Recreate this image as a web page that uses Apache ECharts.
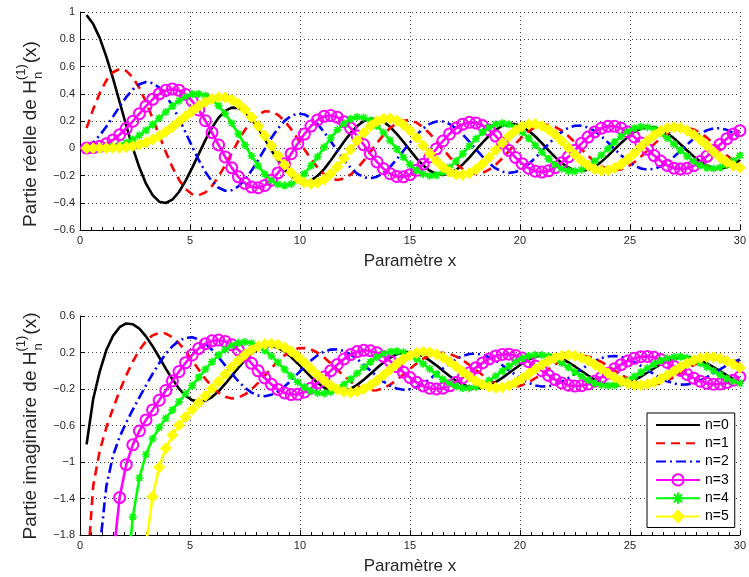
<!DOCTYPE html>
<html>
<head>
<meta charset="utf-8">
<script src="https://cdn.jsdelivr.net/npm/echarts@6/dist/echarts.min.js"></script>
<style>
  html, body { margin: 0; padding: 0; background: #fff; }
  #chart { width: 749px; height: 577px; }
</style>
</head>
<body>
<div id="chart"></div>
<script>
// Sample points along the x axis
const xs = [
  0.3, 0.6, 0.9, 1.2, 1.5, 1.8, 2.1, 2.4, 2.7, 3.0,
  3.3, 3.6, 3.9, 4.2, 4.5, 4.8, 5.1, 5.4, 5.7, 6.0,
  6.3, 6.6, 6.9, 7.2, 7.5, 7.8, 8.1, 8.4, 8.7, 9.0,
  9.3, 9.6, 9.9, 10.2, 10.5, 10.8, 11.1, 11.4, 11.7, 12.0,
  12.3, 12.6, 12.9, 13.2, 13.5, 13.8, 14.1, 14.4, 14.7, 15.0,
  15.3, 15.6, 15.9, 16.2, 16.5, 16.8, 17.1, 17.4, 17.7, 18.0,
  18.3, 18.6, 18.9, 19.2, 19.5, 19.8, 20.1, 20.4, 20.7, 21.0,
  21.3, 21.6, 21.9, 22.2, 22.5, 22.8, 23.1, 23.4, 23.7, 24.0,
  24.3, 24.6, 24.9, 25.2, 25.5, 25.8, 26.1, 26.4, 26.7, 27.0,
  27.3, 27.6, 27.9, 28.2, 28.5, 28.8, 29.1, 29.4, 29.7, 30.0
];

// Real part of H_n^(1)(x), orders n = 0..5
const re0 = [
  0.978, 0.912, 0.808, 0.671, 0.512, 0.340, 0.167, 0.003, -0.142, -0.260,
  -0.344, -0.392, -0.402, -0.377, -0.321, -0.240, -0.144, -0.041, 0.060, 0.151,
  0.224, 0.274, 0.298, 0.295, 0.266, 0.215, 0.148, 0.069, -0.013, -0.090,
  -0.158, -0.209, -0.240, -0.250, -0.237, -0.203, -0.153, -0.090, -0.021, 0.048,
  0.111, 0.163, 0.199, 0.217, 0.215, 0.194, 0.157, 0.106, 0.048, -0.014,
  -0.074, -0.125, -0.165, -0.189, -0.196, -0.186, -0.159, -0.119, -0.069, -0.013,
  0.042, 0.093, 0.135, 0.165, 0.179, 0.177, 0.160, 0.128, 0.086, 0.037,
  -0.015, -0.065, -0.108, -0.141, -0.162, -0.167, -0.158, -0.134, -0.100, -0.056,
  -0.008, 0.039, 0.083, 0.119, 0.144, 0.156, 0.154, 0.138, 0.110, 0.073,
  0.029, -0.016, -0.060, -0.098, -0.126, -0.144, -0.148, -0.139, -0.118, -0.086
];
const re1 = [
  0.148, 0.287, 0.406, 0.498, 0.558, 0.582, 0.568, 0.520, 0.442, 0.339,
  0.221, 0.095, -0.027, -0.139, -0.231, -0.299, -0.337, -0.345, -0.324, -0.277,
  -0.208, -0.125, -0.035, 0.054, 0.135, 0.201, 0.248, 0.271, 0.270, 0.245,
  0.200, 0.140, 0.068, -0.007, -0.079, -0.142, -0.191, -0.222, -0.233, -0.223,
  -0.194, -0.149, -0.091, -0.027, 0.038, 0.098, 0.149, 0.185, 0.204, 0.205,
  0.188, 0.154, 0.108, 0.053, -0.006, -0.063, -0.114, -0.153, -0.179, -0.188,
  -0.181, -0.157, -0.120, -0.074, -0.021, 0.033, 0.083, 0.125, 0.155, 0.171,
  0.172, 0.157, 0.129, 0.090, 0.043, -0.007, -0.055, -0.098, -0.132, -0.154,
  -0.162, -0.155, -0.135, -0.103, -0.062, -0.016, 0.030, 0.074, 0.110, 0.137,
  0.150, 0.151, 0.138, 0.113, 0.078, 0.036, -0.008, -0.051, -0.089, -0.119
];
const re2 = [
  0.011, 0.044, 0.095, 0.159, 0.232, 0.306, 0.375, 0.431, 0.470, 0.486,
  0.478, 0.445, 0.388, 0.311, 0.218, 0.116, 0.012, -0.087, -0.174, -0.243,
  -0.290, -0.312, -0.308, -0.280, -0.230, -0.164, -0.086, -0.005, 0.075, 0.145,
  0.201, 0.238, 0.254, 0.248, 0.222, 0.177, 0.118, 0.051, -0.019, -0.085,
  -0.142, -0.186, -0.213, -0.221, -0.209, -0.180, -0.136, -0.081, -0.020, 0.042,
  0.098, 0.145, 0.179, 0.196, 0.196, 0.178, 0.146, 0.101, 0.049, -0.008,
  -0.062, -0.110, -0.148, -0.172, -0.181, -0.174, -0.151, -0.116, -0.071, -0.020,
  0.031, 0.080, 0.120, 0.150, 0.165, 0.166, 0.153, 0.126, 0.088, 0.043,
  -0.005, -0.052, -0.094, -0.127, -0.149, -0.157, -0.151, -0.132, -0.102, -0.063,
  -0.018, 0.027, 0.070, 0.106, 0.132, 0.146, 0.147, 0.135, 0.112, 0.078
];
const re3 = [
  0.001, 0.004, 0.014, 0.033, 0.061, 0.099, 0.145, 0.198, 0.254, 0.309,
  0.359, 0.399, 0.425, 0.434, 0.425, 0.395, 0.347, 0.281, 0.202, 0.115,
  0.024, -0.064, -0.144, -0.210, -0.258, -0.285, -0.290, -0.273, -0.235, -0.181,
  -0.114, -0.040, 0.034, 0.104, 0.163, 0.208, 0.234, 0.240, 0.227, 0.195,
  0.148, 0.090, 0.025, -0.040, -0.100, -0.151, -0.187, -0.207, -0.210, -0.194,
  -0.162, -0.117, -0.063, -0.005, 0.053, 0.105, 0.148, 0.177, 0.190, 0.186,
  0.167, 0.134, 0.089, 0.038, -0.016, -0.068, -0.113, -0.147, -0.169, -0.175,
  -0.166, -0.143, -0.107, -0.063, -0.014, 0.036, 0.082, 0.120, 0.147, 0.161,
  0.161, 0.147, 0.120, 0.083, 0.039, -0.008, -0.054, -0.094, -0.126, -0.146,
  -0.153, -0.147, -0.128, -0.098, -0.059, -0.016, 0.028, 0.069, 0.104, 0.129
];
const re4 = [
  0.000, 0.000, 0.002, 0.005, 0.012, 0.023, 0.040, 0.064, 0.095, 0.132,
  0.174, 0.220, 0.266, 0.310, 0.348, 0.378, 0.396, 0.399, 0.387, 0.358,
  0.313, 0.254, 0.183, 0.105, 0.024, -0.056, -0.129, -0.190, -0.237, -0.265,
  -0.274, -0.263, -0.233, -0.187, -0.128, -0.062, 0.008, 0.075, 0.135, 0.182,
  0.215, 0.229, 0.225, 0.203, 0.165, 0.115, 0.056, -0.006, -0.066, -0.119,
  -0.162, -0.190, -0.202, -0.198, -0.176, -0.141, -0.094, -0.040, 0.016, 0.070,
  0.117, 0.153, 0.176, 0.184, 0.176, 0.153, 0.118, 0.073, 0.022, -0.030,
  -0.078, -0.119, -0.150, -0.167, -0.169, -0.157, -0.132, -0.095, -0.051, -0.003,
  0.045, 0.088, 0.123, 0.147, 0.158, 0.155, 0.139, 0.111, 0.074, 0.030,
  -0.015, -0.059, -0.097, -0.126, -0.144, -0.149, -0.141, -0.121, -0.091, -0.053
];
const re5 = [
  0.000, 0.000, 0.000, 0.001, 0.002, 0.004, 0.009, 0.016, 0.027, 0.043,
  0.064, 0.090, 0.121, 0.156, 0.195, 0.235, 0.274, 0.310, 0.340, 0.362,
  0.373, 0.372, 0.356, 0.327, 0.283, 0.228, 0.163, 0.092, 0.018, -0.055,
  -0.122, -0.179, -0.223, -0.251, -0.261, -0.253, -0.228, -0.188, -0.135, -0.074,
  -0.009, 0.056, 0.114, 0.163, 0.198, 0.217, 0.219, 0.204, 0.174, 0.130,
  0.078, 0.020, -0.039, -0.093, -0.139, -0.172, -0.192, -0.195, -0.183, -0.155,
  -0.116, -0.068, -0.014, 0.039, 0.088, 0.130, 0.160, 0.176, 0.177, 0.164,
  0.137, 0.099, 0.053, 0.003, -0.046, -0.091, -0.127, -0.153, -0.164, -0.162,
  -0.146, -0.118, -0.080, -0.036, 0.011, 0.056, 0.096, 0.128, 0.148, 0.155,
  0.149, 0.130, 0.100, 0.062, 0.019, -0.025, -0.067, -0.102, -0.128, -0.143
];

// Imaginary part of H_n^(1)(x), orders n = 0..5
const im0 = [
  -0.807, -0.309, -0.006, 0.228, 0.382, 0.477, 0.518, 0.510, 0.461, 0.377,
  0.269, 0.148, 0.023, -0.094, -0.195, -0.272, -0.322, -0.340, -0.328, -0.288,
  -0.225, -0.145, -0.056, 0.034, 0.117, 0.187, 0.238, 0.266, 0.270, 0.250,
  0.209, 0.150, 0.080, 0.006, -0.068, -0.133, -0.184, -0.218, -0.232, -0.225,
  -0.199, -0.155, -0.099, -0.035, 0.030, 0.091, 0.143, 0.181, 0.203, 0.205,
  0.190, 0.158, 0.113, 0.059, 0.000, -0.057, -0.109, -0.150, -0.177, -0.188,
  -0.182, -0.160, -0.124, -0.078, -0.025, 0.028, 0.079, 0.122, 0.153, 0.170,
  0.172, 0.159, 0.132, 0.093, 0.047, -0.003, -0.052, -0.096, -0.130, -0.153,
  -0.162, -0.156, -0.136, -0.105, -0.065, -0.019, 0.028, 0.071, 0.108, 0.135,
  0.150, 0.151, 0.139, 0.114, 0.080, 0.039, -0.005, -0.049, -0.087, -0.117
];
const im1 = [
  -2.293, -1.260, -0.873, -0.621, -0.412, -0.224, -0.052, 0.100, 0.228, 0.325,
  0.388, 0.415, 0.408, 0.368, 0.301, 0.214, 0.114, 0.010, -0.089, -0.175,
  -0.242, -0.286, -0.303, -0.293, -0.259, -0.204, -0.133, -0.053, 0.028, 0.104,
  0.169, 0.217, 0.245, 0.250, 0.234, 0.197, 0.145, 0.081, 0.011, -0.057,
  -0.119, -0.169, -0.203, -0.218, -0.214, -0.191, -0.152, -0.100, -0.041, 0.021,
  0.080, 0.130, 0.169, 0.191, 0.196, 0.184, 0.156, 0.115, 0.064, 0.008,
  -0.047, -0.098, -0.139, -0.167, -0.180, -0.176, -0.158, -0.125, -0.082, -0.033,
  0.019, 0.069, 0.111, 0.144, 0.163, 0.167, 0.157, 0.132, 0.097, 0.053,
  0.005, -0.043, -0.086, -0.121, -0.145, -0.156, -0.153, -0.137, -0.108, -0.070,
  -0.027, 0.019, 0.062, 0.100, 0.128, 0.144, 0.148, 0.138, 0.116, 0.084
];
const im2 = [
  -14.48, -3.893, -1.935, -1.263, -0.932, -0.726, -0.568, -0.427, -0.292, -0.160,
  -0.034, 0.083, 0.186, 0.269, 0.328, 0.361, 0.366, 0.344, 0.297, 0.230,
  0.148, 0.059, -0.032, -0.115, -0.186, -0.240, -0.271, -0.279, -0.264, -0.227,
  -0.172, -0.105, -0.031, 0.043, 0.112, 0.169, 0.210, 0.232, 0.234, 0.216,
  0.179, 0.128, 0.067, 0.002, -0.062, -0.119, -0.165, -0.195, -0.208, -0.203,
  -0.180, -0.142, -0.092, -0.035, 0.024, 0.079, 0.127, 0.163, 0.184, 0.188,
  0.176, 0.149, 0.109, 0.060, 0.007, -0.046, -0.094, -0.134, -0.161, -0.173,
  -0.170, -0.153, -0.121, -0.080, -0.032, 0.018, 0.065, 0.107, 0.138, 0.157,
  0.162, 0.152, 0.130, 0.096, 0.053, 0.007, -0.039, -0.082, -0.116, -0.140,
  -0.152, -0.150, -0.134, -0.107, -0.071, -0.029, 0.015, 0.058, 0.095, 0.123
];
const im3 = [
  -190.8, -24.69, -7.725, -3.590, -2.073, -1.390, -1.029, -0.812, -0.660, -0.539,
  -0.429, -0.323, -0.217, -0.112, -0.009, 0.088, 0.173, 0.245, 0.297, 0.328,
  0.336, 0.321, 0.285, 0.229, 0.160, 0.081, -0.001, -0.079, -0.149, -0.205,
  -0.243, -0.261, -0.257, -0.233, -0.191, -0.135, -0.069, 0.001, 0.069, 0.129,
  0.177, 0.210, 0.224, 0.219, 0.196, 0.157, 0.105, 0.046, -0.016, -0.075,
  -0.127, -0.167, -0.192, -0.200, -0.191, -0.165, -0.126, -0.077, -0.022, 0.034,
  0.086, 0.130, 0.162, 0.179, 0.181, 0.167, 0.139, 0.099, 0.051, 0.000,
  -0.051, -0.097, -0.134, -0.158, -0.168, -0.164, -0.145, -0.114, -0.073, -0.027,
  0.022, 0.067, 0.107, 0.136, 0.154, 0.157, 0.147, 0.124, 0.091, 0.049,
  0.004, -0.041, -0.081, -0.115, -0.138, -0.148, -0.146, -0.130, -0.104, -0.068
];
const im4 = [
  -3801, -243.0, -49.57, -16.69, -7.361, -3.906, -2.373, -1.602, -1.175, -0.917,
  -0.746, -0.622, -0.520, -0.429, -0.340, -0.252, -0.162, -0.072, 0.016, 0.098,
  0.172, 0.233, 0.279, 0.306, 0.314, 0.302, 0.270, 0.222, 0.161, 0.090,
  0.015, -0.058, -0.125, -0.181, -0.221, -0.244, -0.248, -0.232, -0.199, -0.151,
  -0.093, -0.029, 0.037, 0.097, 0.149, 0.187, 0.209, 0.214, 0.202, 0.173,
  0.130, 0.077, 0.020, -0.039, -0.093, -0.138, -0.171, -0.190, -0.191, -0.177,
  -0.148, -0.107, -0.058, -0.004, 0.049, 0.097, 0.136, 0.163, 0.176, 0.173,
  0.156, 0.126, 0.085, 0.037, -0.013, -0.061, -0.103, -0.136, -0.157, -0.164,
  -0.157, -0.136, -0.104, -0.063, -0.017, 0.029, 0.073, 0.110, 0.137, 0.151,
  0.153, 0.141, 0.117, 0.083, 0.042, -0.002, -0.045, -0.084, -0.116, -0.137
];
const im5 = [
  -101167, -3216, -432.9, -107.6, -37.19, -15.97, -8.012, -4.530, -2.821, -1.906,
  -1.380, -1.058, -0.850, -0.705, -0.596, -0.507, -0.428, -0.351, -0.275, -0.197,
  -0.118, -0.038, 0.039, 0.111, 0.175, 0.229, 0.268, 0.291, 0.297, 0.285,
  0.256, 0.212, 0.156, 0.091, 0.022, -0.046, -0.110, -0.164, -0.205, -0.230,
  -0.238, -0.228, -0.201, -0.160, -0.108, -0.048, 0.014, 0.073, 0.126, 0.167,
  0.195, 0.207, 0.202, 0.181, 0.146, 0.100, 0.046, -0.010, -0.064, -0.112,
  -0.151, -0.176, -0.186, -0.181, -0.161, -0.128, -0.085, -0.035, 0.017, 0.066,
  0.110, 0.143, 0.165, 0.172, 0.164, 0.143, 0.110, 0.068, 0.020, -0.028,
  -0.073, -0.112, -0.140, -0.156, -0.159, -0.148, -0.125, -0.091, -0.050, -0.005,
  0.040, 0.081, 0.115, 0.138, 0.149, 0.148, 0.133, 0.107, 0.072, 0.032
];

const orderNames = ['n=0', 'n=1', 'n=2', 'n=3', 'n=4', 'n=5'];
const realParts = [re0, re1, re2, re3, re4, re5];
const imagParts = [im0, im1, im2, im3, im4, im5];

const FONT = '"Liberation Sans", Arial, Helvetica, sans-serif';
const ASTERISK = 'path://M-5,0L5,0M0,-5L0,5M-3.6,-3.6L3.6,3.6M-3.6,3.6L3.6,-3.6';

// Per-order line and marker styles
const styles = [
  { color: '#000000', width: 2.6, type: 'solid', symbol: 'none' },
  { color: '#ff0000', width: 2.6, type: [9, 6], symbol: 'none' },
  { color: '#0000ff', width: 2.6, type: [10, 4, 2, 4], symbol: 'none' },
  { color: '#ff00ff', width: 2.6, type: 'solid', symbol: 'circle', size: 11,
    item: { color: 'rgba(0,0,0,0)', borderColor: '#ff00ff', borderWidth: 2 } },
  { color: '#00ff00', width: 2.6, type: 'solid', symbol: ASTERISK, size: 8,
    item: { color: 'rgba(0,0,0,0)', borderColor: '#00ff00', borderWidth: 1.6 } },
  { color: '#ffff00', width: 2.6, type: 'solid', symbol: 'diamond', size: 11,
    item: { color: '#ffff00', borderColor: '#ffff00', borderWidth: 1 } }
];

function makeSeries(values, k, axisIdx) {
  const s = styles[k];
  return {
    name: orderNames[k],
    type: 'line',
    xAxisIndex: axisIdx,
    yAxisIndex: axisIdx,
    data: xs.map((x, i) => [x, values[i]]),
    clip: true,
    symbol: s.symbol,
    symbolSize: s.size || 0,
    showSymbol: s.symbol !== 'none',
    showAllSymbol: true,
    lineStyle: { color: s.color, width: s.width, type: s.type, join: 'round' },
    itemStyle: s.item || { color: s.color },
    emphasis: { disabled: true },
    z: 2 + k
  };
}

function fmt(v) {
  const r = Math.round(v * 10) / 10;
  if (r === 0) return '0';
  const t = String(Math.abs(r));
  return r < 0 ? '\u2212' + t : t;
}

const tickLabel = { fontFamily: FONT, fontSize: 11, color: '#262626', margin: 5 };

function xAxisCfg(gridIndex) {
  return {
    type: 'value', gridIndex, min: 0, max: 30, interval: 5,
    name: 'Param\u00e8tre x', nameLocation: 'middle', nameGap: 23,
    nameTextStyle: { fontFamily: FONT, fontSize: 17, color: '#262626' },
    axisLine: { show: true, onZero: false, lineStyle: { color: '#000', width: 1 } },
    axisTick: { show: true, inside: true, length: 5, lineStyle: { color: '#000' } },
    minorTick: { show: true, splitNumber: 10, length: 3, lineStyle: { color: '#000' } },
    axisLabel: Object.assign({ formatter: v => String(v) }, tickLabel),
    splitLine: { show: true, lineStyle: { color: '#444', width: 1, type: [1, 3] } }
  };
}

function yAxisCfg(gridIndex, min, max, interval) {
  return {
    type: 'value', gridIndex, min, max, interval,
    axisLine: { show: true, onZero: false, lineStyle: { color: '#000', width: 1 } },
    axisTick: { show: true, inside: true, length: 5, lineStyle: { color: '#000' } },
    axisLabel: Object.assign({ formatter: fmt }, tickLabel),
    splitLine: { show: true, lineStyle: { color: '#444', width: 1, type: [1, 3] } }
  };
}

// Rotated axis title with stacked sub/superscript: "<main>H", n below, (1) above, then "(x)"
function yTitle(main, cx, cy) {
  const mainFont = '19px ' + FONT;
  const smallFont = '13px ' + FONT;
  const ctx = document.createElement('canvas').getContext('2d');
  ctx.font = mainFont;
  const wMain = ctx.measureText(main).width;
  const wX = ctx.measureText('(x)').width;
  ctx.font = smallFont;
  const wStack = Math.max(ctx.measureText('n').width, ctx.measureText('(1)').width) + 1;
  const total = wMain + wStack + wX;
  const x0 = -total / 2;
  const txt = (text, x, y, font) => ({
    type: 'text', x, y,
    style: { text, font, fill: '#262626', align: 'left', verticalAlign: 'middle' }
  });
  return {
    type: 'group', x: cx, y: cy, rotation: Math.PI / 2,
    children: [
      txt(main, x0, 0, mainFont),
      txt('n', x0 + wMain + 1, 7, smallFont),
      txt('(1)', x0 + wMain, -10, smallFont),
      txt('(x)', x0 + wMain + wStack, 0, mainFont)
    ]
  };
}

const series = [];
realParts.forEach((v, k) => series.push(makeSeries(v, k, 0)));
imagParts.forEach((v, k) => series.push(makeSeries(v, k, 1)));

// Legend entries: plain line samples for the orders drawn without markers
const legendData = orderNames.map((name, k) =>
  styles[k].symbol === 'none' ? { name, itemStyle: { opacity: 0 } } : { name });

const chart = echarts.init(document.getElementById('chart'), null, { renderer: 'canvas' });
chart.setOption({
  animation: false,
  backgroundColor: '#ffffff',
  textStyle: { fontFamily: FONT },
  grid: [
    { left: 80, top: 12, width: 662, height: 218 },
    { left: 80, top: 316, width: 662, height: 219 }
  ],
  xAxis: [xAxisCfg(0), xAxisCfg(1)],
  yAxis: [yAxisCfg(0, -0.6, 1, 0.2), yAxisCfg(1, -1.8, 0.6, 0.4)],
  legend: {
    data: legendData,
    orient: 'vertical',
    left: 647, top: 413,
    itemWidth: 44, itemHeight: 14, itemGap: 4.3,
    padding: [5, 6, 4, 8],
    borderColor: '#000', borderWidth: 1,
    backgroundColor: '#ffffff',
    selectedMode: false,
    textStyle: { fontFamily: FONT, fontSize: 14, color: '#000' }
  },
  graphic: [
    yTitle('Partie r\u00e9elle de H', 31, 134),
    yTitle('Partie imaginaire de H', 31, 426)
  ],
  series
});
</script>
</body>
</html>
